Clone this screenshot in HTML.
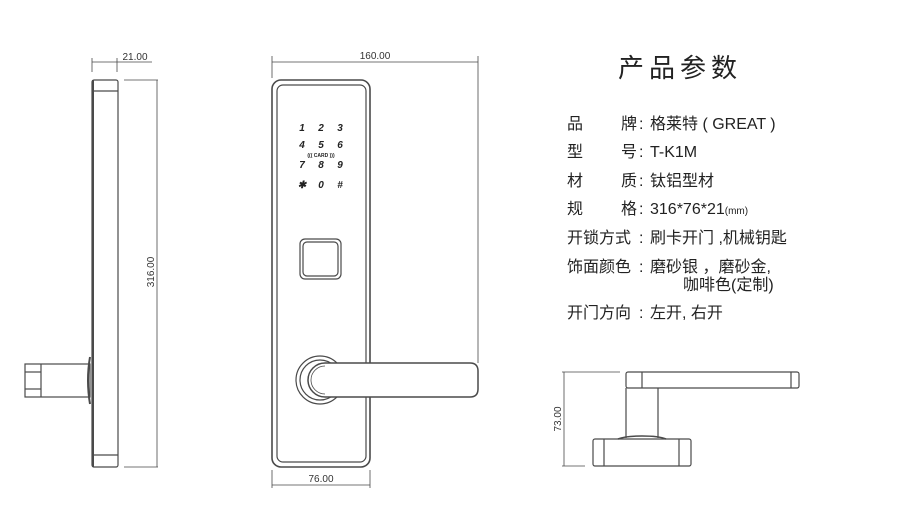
<!DOCTYPE html>
<html><head><meta charset="utf-8"><style>
html,body{margin:0;padding:0;background:#fff;width:900px;height:524px;overflow:hidden}
.t{position:absolute;font-family:"Liberation Sans","Noto Sans CJK SC",sans-serif;color:#222;font-size:16px;white-space:nowrap;line-height:1}
</style></head><body>
<svg width="900" height="524" style="position:absolute;left:0;top:0" xmlns="http://www.w3.org/2000/svg">
<g fill="none" stroke="#4a4a4a" stroke-width="1.2">
<rect x="92" y="80" width="26" height="387" rx="2"/>
<line x1="92" y1="91" x2="118" y2="91"/><line x1="92" y1="455" x2="118" y2="455"/>
<line x1="93" y1="80" x2="93" y2="467" stroke-width="2"/>
<path d="M92 62 H117 M92 58 V72 M117 58 V72 M117 62 H152" stroke-width="0.8"/>
<path d="M124 80 H158 M124 467 H158 M157 80 V467" stroke-width="0.8"/>
<rect x="25" y="364" width="65" height="33"/>
<line x1="41" y1="364" x2="41" y2="397"/>
<line x1="25" y1="372" x2="41" y2="372"/><line x1="25" y1="389" x2="41" y2="389"/>
<path d="M90 357 Q86 380 90 404" stroke-width="2"/>
<rect x="272" y="80" width="98" height="387" rx="9" stroke-width="1.6"/>
<rect x="277" y="85" width="89" height="377" rx="6"/>
<path d="M272 62 H478 M272 56 V78 M478 56 V363" stroke-width="0.8"/>
<path d="M272 470 V488 M370 470 V488 M272 485 H370" stroke-width="0.8"/>
<rect x="300" y="239" width="41" height="40" rx="5"/>
<rect x="303" y="242" width="35" height="34" rx="4"/>
<circle cx="320" cy="380" r="24"/>
<circle cx="320" cy="380" r="20"/>
<path d="M325 363 H470 Q478 363 478 371 V389 Q478 397 470 397 H325 A17 17 0 0 1 325 363 Z" fill="#fff" stroke-width="1.5"/>
<path d="M325 366 A14 14 0 0 0 325 394" stroke-width="0.8"/>
<rect x="626" y="372" width="173" height="16" rx="2"/>
<line x1="642" y1="372" x2="642" y2="388"/><line x1="791" y1="372" x2="791" y2="388"/>
<line x1="626" y1="388" x2="626" y2="438"/><line x1="658" y1="388" x2="658" y2="438"/>
<path d="M618 439 Q625 436 642 436 Q659 436 666 439" stroke-width="1.5"/>
<rect x="593" y="439" width="98" height="27" rx="2"/>
<line x1="604" y1="439" x2="604" y2="466"/><line x1="679" y1="439" x2="679" y2="466"/>
<path d="M564 372 V466 M562 372 H620 M562 466 H585" stroke-width="0.8"/>
</g>
<g font-family="Liberation Sans,sans-serif" fill="#333">
<text x="135" y="60" font-size="10" text-anchor="middle">21.00</text>
<text x="375" y="59" font-size="10" text-anchor="middle">160.00</text>
<text x="321" y="482" font-size="10" text-anchor="middle">76.00</text>
<text transform="translate(154,272) rotate(-90)" font-size="10" text-anchor="middle">316.00</text>
<text transform="translate(561,419) rotate(-90)" font-size="10" text-anchor="middle">73.00</text>
<g font-size="10" font-weight="bold" font-style="italic" text-anchor="middle" fill="#222">
<text x="302" y="131">1</text><text x="321" y="131">2</text><text x="340" y="131">3</text>
<text x="302" y="148">4</text><text x="321" y="148">5</text><text x="340" y="148">6</text>
<text x="302" y="168">7</text><text x="321" y="168">8</text><text x="340" y="168">9</text>
<text x="302" y="188">✱</text><text x="321" y="188">0</text><text x="340" y="188">#</text>
<text x="321" y="157" font-size="5" font-style="normal">((( CARD )))</text>
</g>
</g>
</svg>
<div class="t" style="left:618px;top:55px;font-size:26px;letter-spacing:5px">产品参数</div>
<div class="t" style="left:567px;top:117px">品</div><div class="t" style="left:621px;top:117px">牌</div>
<div class="t" style="left:567px;top:145px">型</div><div class="t" style="left:621px;top:145px">号</div>
<div class="t" style="left:567px;top:174px">材</div><div class="t" style="left:621px;top:174px">质</div>
<div class="t" style="left:567px;top:202px">规</div><div class="t" style="left:621px;top:202px">格</div>
<div class="t" style="left:567px;top:231px">开锁方式</div>
<div class="t" style="left:567px;top:260px">饰面颜色</div>
<div class="t" style="left:567px;top:306px">开门方向</div>
<div class="t" style="left:639px;top:117px">:</div><div class="t" style="left:639px;top:145px">:</div>
<div class="t" style="left:639px;top:174px">:</div><div class="t" style="left:639px;top:202px">:</div>
<div class="t" style="left:639px;top:231px">:</div><div class="t" style="left:639px;top:260px">:</div>
<div class="t" style="left:639px;top:306px">:</div>
<div class="t" style="left:650px;top:117px">格莱特 ( GREAT )</div>
<div class="t" style="left:650px;top:145px">T-K1M</div>
<div class="t" style="left:650px;top:174px">钛铝型材</div>
<div class="t" style="left:650px;top:202px">316*76*21<span style="font-size:10px">(mm)</span></div>
<div class="t" style="left:650px;top:231px">刷卡开门 ,机械钥匙</div>
<div class="t" style="left:650px;top:260px">磨砂银 ，磨砂金,</div>
<div class="t" style="left:683px;top:278px">咖啡色(定制)</div>
<div class="t" style="left:650px;top:306px">左开, 右开</div>
</body></html>
